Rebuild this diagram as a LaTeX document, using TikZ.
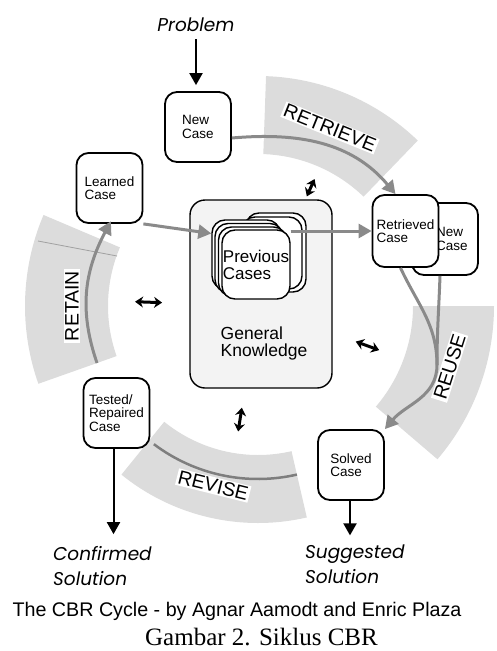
\documentclass[tikz,border=0pt]{standalone}
\usepackage{fontspec}
\setmainfont{Liberation Sans}
\newfontfamily\serifcap{Liberation Serif}
\newfontfamily\outfont{Poppins}
\usetikzlibrary{arrows.meta,calc}

\definecolor{bandgray}{HTML}{DCDCDC}
\definecolor{flowgray}{HTML}{8A8A8A}
\definecolor{kbgray}{HTML}{F3F3F3}

\tikzset{
  casebox/.style={draw, line width=1.8pt, rounded corners=12pt, fill=white,
    minimum width=66pt, minimum height=70pt, align=left, inner sep=2pt,
    font=\fontsize{13.5}{13.5}\selectfont},
  stackbox/.style={draw, line width=1.4pt, rounded corners=13pt, fill=white,
    minimum width=68pt, minimum height=69pt},
  steplabel/.style={fill=white, inner sep=1.5pt, font=\fontsize{19.5}{20}\selectfont},
  flow/.style={draw=flowgray, line width=3pt, -{Triangle[width=14pt,length=13pt]}},
  inout/.style={line width=2pt, -{Triangle[width=13pt,length=12pt]}},
  link/.style={line width=3pt, {Stealth[length=8pt,width=11pt]}-{Stealth[length=8pt,width=11pt]}},
  outlabel/.style={font=\outfont\itshape\fontsize{18.5}{25}\selectfont, align=left, inner sep=4pt}
}

\begin{document}
\begin{tikzpicture}[x=1pt,y=1pt]
  \useasboundingbox (0,0) rectangle (496,-651);
  \coordinate (cyc) at (258,-306);

  \foreach \a/\b/\ri/\ro in {46/88/152/230, 157/199.5/150/233, -40.5/0/155/236, 231/283/149/217}
    \fill[bandgray] ($(cyc)+(\a:\ri)$) arc[start angle=\a, end angle=\b, radius=\ri]
      -- ($(cyc)+(\b:\ro)$) arc[start angle=\b, end angle=\a, radius=\ro] -- cycle;
  \draw[flowgray!80, line width=0.8pt] (38,-241) -- (117,-256);
  \draw[flowgray!110, line width=2.5pt] ($(cyc)+(233:173)$) arc[start angle=233, end angle=283, radius=173];

  \node[draw, line width=1.4pt, rounded corners=15pt, fill=kbgray,
    minimum width=142pt, minimum height=188pt] (kb) at (261,-294) {};
  \node[font=\fontsize{17.5}{17}\selectfont, align=left] (kbtext) at (264,-343) {General\\Knowledge};

  \node[stackbox, minimum width=60pt, minimum height=79pt] (prevback1) at (276,-252.5) {};
  \node[stackbox, minimum width=60pt, minimum height=72pt] (prevback2) at (272,-253) {};
  \node[stackbox] (prev1) at (246,-254.5) {};
  \node[stackbox] (prev2) at (249,-258) {};
  \node[stackbox] (prev3) at (252.5,-261.5) {};
  \node[stackbox, inner sep=0pt, align=left, font=\fontsize{17}{17}\selectfont]
    (prev) at (256,-264.5) {Previous\\Cases};

  \node[casebox] (newcase) at (198,-127) {New\\Case};
  \node[casebox] (learned) at (109.5,-188) {Learned\\Case};
  \node[casebox, minimum height=72pt] (newc2) at (445,-239) {\hspace*{14pt}New\\\hspace*{14pt}Case};
  \node[casebox, minimum height=72pt] (retr) at (405.5,-231) {Retrieved\\Case};
  \node[casebox] (tested) at (116.5,-413) {Tested/\\Repaired\\Case};
  \node[casebox] (solved) at (351,-465) {Solved\\Case};

  \node[outlabel, anchor=base] (problem) at (196,-31) {Problem};
  \node[outlabel, anchor=west] (confirmed) at (49,-566) {Confirmed\\Solution};
  \node[outlabel, anchor=west] (suggested) at (301,-564) {Suggested\\Solution};
  \node[font=\fontsize{19.7}{20}\selectfont, anchor=base] (credit) at (237,-616)
    {The CBR Cycle - by Agnar Aamodt and Enric Plaza};
  \node[font=\serifcap\fontsize{25}{26}\selectfont, anchor=base] (caption) at (261.5,-645)
    {Gambar 2. Siklus CBR};

  \coordinate (retainstart) at (97,-363);
  \coordinate (reusejoin) at (437,-365);
  \draw[flow] ([yshift=-11pt]newcase.east) to[out=5, in=130] ([xshift=-10pt]retr.north);
  \draw[flow, shorten >=-3pt] (retainstart) to[out=109, in=-118] (learned.south);
  \draw[flowgray, line width=3pt] ([xshift=-5pt]newc2.south) to[out=-92, in=90] (reusejoin);
  \draw[flow] ([xshift=-5pt]retr.south) to[out=-65, in=90] (reusejoin)
    to[out=-90, in=50] (solved.north east);
  \draw[flow] (learned.south east) -- ([yshift=21pt]prev1.west);
  \draw[flow] (prev.east |- retr.west) -- (retr.west);

  \node[steplabel, rotate=-22] (retrieve) at ($(cyc)+(68:192)$) {RETRIEVE};
  \node[steplabel, rotate=90] (retain) at ($(cyc)+(180:186)$) {RETAIN};
  \node[steplabel, rotate=72.4] (reuse) at ($(cyc)+(-17.6:201)$) {REUSE};
  \node[steplabel, rotate=-14] (revise) at ($(cyc)+(256:185)$) {REVISE};

  \draw[inout, shorten <=4pt, shorten >=6pt] (problem.south) -- (problem.south |- newcase.north);
  \draw[inout, shorten >=8pt] ([xshift=-3pt]tested.south) -- ([xshift=-3pt]tested.south |- confirmed.north);
  \draw[inout, shorten >=5pt] ([xshift=-1pt]solved.south) -- ([xshift=-1pt]solved.south |- suggested.north);

  \draw[link] ($(cyc)+(66:120)$) -- ($(cyc)+(66:139)$);
  \draw[link] ($(cyc)+(178:96)$) -- ($(cyc)+(178:123)$);
  \draw[link] ($(cyc)+(-20:104)$) -- ($(cyc)+(-20:129)$);
  \draw[link] ($(cyc)+(261:103)$) -- ($(cyc)+(261:127)$);
\end{tikzpicture}
\end{document}
